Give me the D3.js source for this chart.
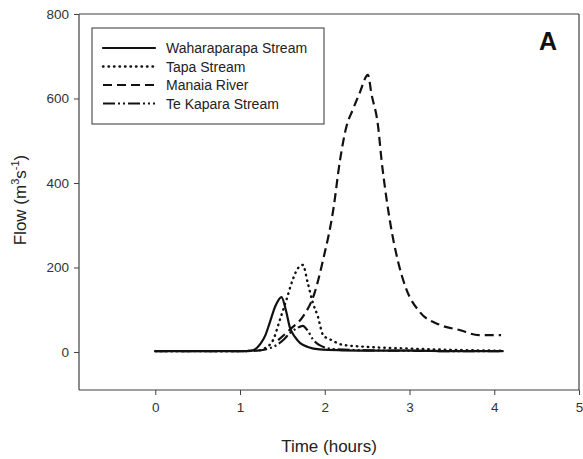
<!DOCTYPE html>
<html>
<head>
<meta charset="utf-8">
<script src="https://cdn.jsdelivr.net/npm/d3@7"></script>
<style>
  body { margin: 0; background: #fff; }
  text { font-family: "Liberation Sans", Arial, sans-serif; }
</style>
</head>
<body>
<div class="container"></div>
<script>
// series values (time in hours, flow in m3/s)
var wahara_t = [0, 0.5, 1.0, 1.15, 1.24, 1.3, 1.35, 1.42, 1.49, 1.54, 1.59, 1.65, 1.71, 1.8, 1.94, 2.2, 2.6, 3.0, 3.5, 4.1];
var wahara_q = [2, 2, 2, 4, 19, 40, 69, 110, 130, 100, 57, 35, 21, 12, 6, 4, 3, 3, 2, 2];

var tapa_t = [0, 0.5, 1.0, 1.2, 1.3, 1.39, 1.47, 1.55, 1.62, 1.69, 1.74, 1.8, 1.86, 1.92, 1.98, 2.08, 2.21, 2.5, 3.0, 3.5, 4.1];
var tapa_q = [2, 2, 2, 3, 10, 28, 76, 125, 170, 200, 206, 163, 116, 83, 40, 28, 17, 12, 8, 5, 3];

var manaia_t = [1.45, 1.6, 1.74, 1.88, 1.98, 2.1, 2.18, 2.255, 2.33, 2.41, 2.51, 2.55, 2.63, 2.67, 2.72, 2.78, 2.86, 2.96, 3.12, 3.35, 3.59, 3.82, 4.08];
var manaia_q = [28, 55, 83, 140, 218, 336, 454, 533, 573, 612, 656, 612, 533, 454, 375, 297, 218, 150, 95, 65, 52, 40, 40];

var kapara_t = [0, 0.5, 1.0, 1.2, 1.3, 1.43, 1.52, 1.59, 1.67, 1.74, 1.8, 1.86, 1.95, 2.1, 2.5, 3.0, 3.5, 4.1];
var kapara_q = [2, 2, 2, 3, 6, 16, 30, 45, 56, 62, 50, 30, 15, 7, 4, 3, 2, 2];

var series_names = ["Waharaparapa Stream", "Tapa Stream", "Manaia River", "Te Kapara Stream"];
var x_ticks = [0, 1, 2, 3, 4, 5];
var y_ticks = [0, 200, 400, 600, 800];

var margin = {top: 14, right: 4, bottom: 69, left: 79},
    width = 583 - margin.left - margin.right,
    height = 459 - margin.top - margin.bottom;

var x_scale = d3.scaleLinear().domain([-0.9, 5]).range([0, width]);
var y_scale = d3.scaleLinear().domain([-90, 800]).range([height, 0]);

var svg = d3.select("div.container").append("svg")
    .attr("width", 583)
    .attr("height", 459);

var g = svg.append("g")
    .attr("transform", "translate(" + margin.left + "," + margin.top + ")");

var axis_color = "#404040";

// frame top and right
g.append("line").attr("x1", 0).attr("x2", width).attr("y1", 0).attr("y2", 0)
    .attr("stroke", axis_color).attr("stroke-width", 1.2);
g.append("line").attr("x1", width).attr("x2", width).attr("y1", 0).attr("y2", height)
    .attr("stroke", axis_color).attr("stroke-width", 1.2);

// axes
var xa = g.append("g")
    .attr("transform", "translate(0," + height + ")")
    .call(d3.axisBottom(x_scale).tickValues(x_ticks).tickFormat(d3.format("d"))
      .tickSize(5).tickPadding(7).tickSizeOuter(0));
var ya = g.append("g")
    .call(d3.axisLeft(y_scale).tickValues(y_ticks).tickFormat(d3.format("d"))
      .tickSize(5).tickPadding(5).tickSizeOuter(0));

[xa, ya].forEach(function (a) {
  a.select(".domain").attr("stroke", axis_color).attr("stroke-width", 1.2)
    .attr("d", a === xa ? "M0,0H" + width : "M0,0V" + height);
  a.selectAll(".tick line").attr("stroke", axis_color);
  a.selectAll(".tick text").attr("fill", "#333").style("font-size", "13.5px");
});

// axis titles
svg.append("text")
    .attr("x", 329)
    .attr("y", 452)
    .attr("text-anchor", "middle")
    .attr("fill", "#222")
    .style("font-size", "17px")
    .text("Time (hours)");

var ytitle = svg.append("text")
    .attr("transform", "translate(26,200) rotate(-90)")
    .attr("text-anchor", "middle")
    .attr("fill", "#222")
    .style("font-size", "17px");
ytitle.append("tspan").text("Flow (m");
ytitle.append("tspan").attr("dy", -7).style("font-size", "11px").text("3");
ytitle.append("tspan").attr("dy", 7).text("s");
ytitle.append("tspan").attr("dy", -7).style("font-size", "11px").text("-1");
ytitle.append("tspan").attr("dy", 7).text(")");

// panel letter
svg.append("text")
    .attr("x", 548)
    .attr("y", 50)
    .attr("text-anchor", "middle")
    .attr("font-weight", "bold")
    .style("font-size", "25px")
    .attr("fill", "#111")
    .text("A");

var styles = [
  {dash: null, width: 2.2, cap: "round"},
  {dash: "0.5,5", width: 2.4, cap: "round"},
  {dash: "9,5", width: 2.2, cap: "butt"},
  {dash: "12,3,2,3,2,3", width: 2.2, cap: "butt"}
];

var line = d3.line()
    .curve(d3.curveMonotoneX)
    .x(function(d) { return x_scale(d[0]); })
    .y(function(d) { return y_scale(d[1]); });

function plot(ts, qs, st) {
  var dat = ts.map(function (t, i) { return [t, qs[i]]; });
  g.append("path")
      .datum(dat)
      .attr("fill", "none")
      .attr("stroke", "#111")
      .attr("stroke-width", st.width)
      .attr("stroke-linejoin", "round")
      .attr("stroke-linecap", st.cap)
      .attr("stroke-dasharray", st.dash)
      .attr("d", line);
}

plot(kapara_t, kapara_q, styles[3]);
plot(manaia_t, manaia_q, styles[2]);
plot(tapa_t, tapa_q, styles[1]);
plot(wahara_t, wahara_q, styles[0]);

// legend
var leg = svg.append("g").attr("transform", "translate(92,28)");
leg.append("rect")
    .attr("width", 232).attr("height", 96)
    .attr("fill", "#fff").attr("stroke", "#333").attr("stroke-width", 1);

series_names.forEach(function (name, i) {
  var yy = 20 + i * 18.5;
  leg.append("line")
      .attr("x1", 11).attr("x2", 63).attr("y1", yy).attr("y2", yy)
      .attr("stroke", "#111")
      .attr("stroke-width", styles[i].width)
      .attr("stroke-linecap", styles[i].cap)
      .attr("stroke-dasharray", styles[i].dash);
  leg.append("text")
      .attr("x", 74).attr("y", yy + 5)
      .attr("fill", "#222")
      .style("font-size", "14px")
      .text(name);
});
</script>
</body>
</html>
